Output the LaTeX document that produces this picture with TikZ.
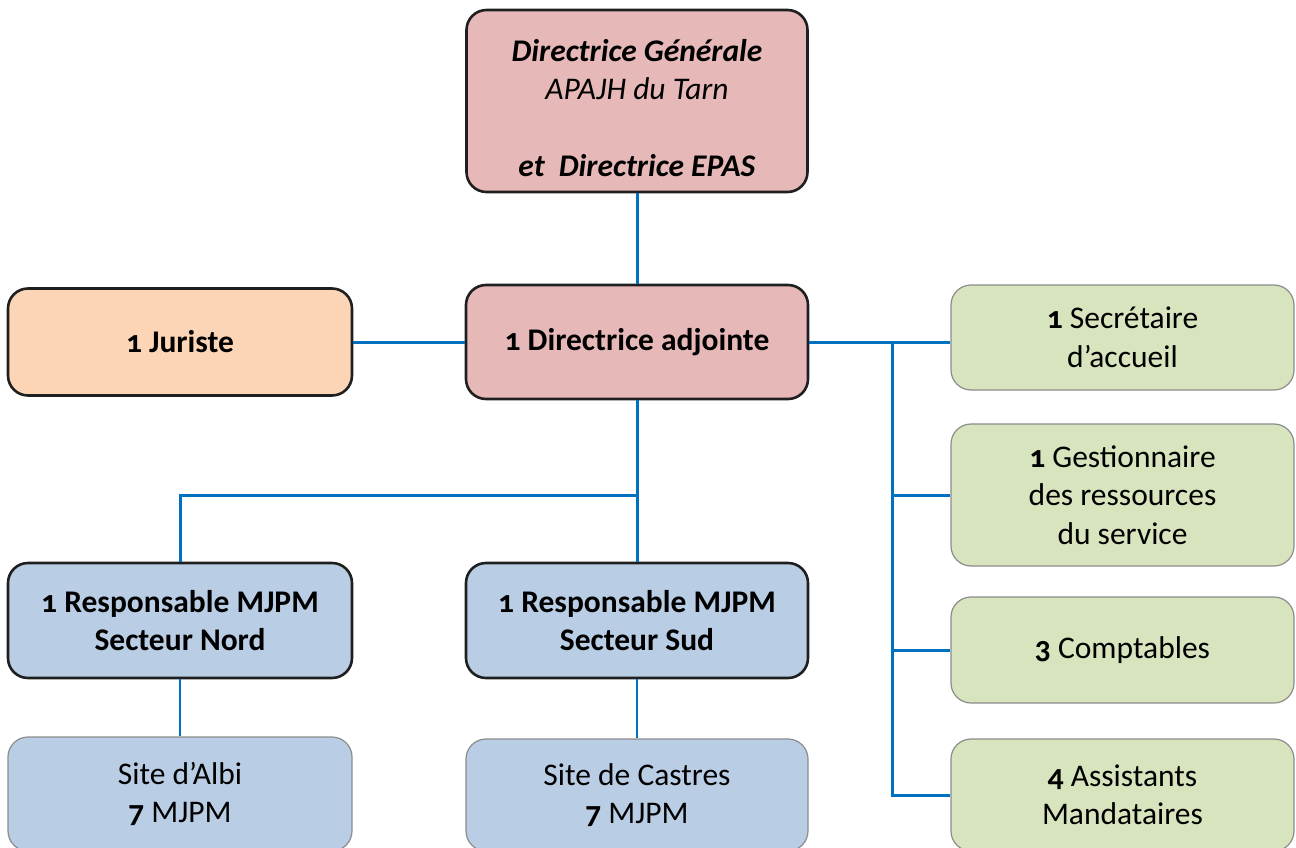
\documentclass[tikz,border=0pt]{standalone}
\usepackage{fontspec}
\setmainfont{Carlito}[Numbers=OldStyle]
\begin{document}
\begin{tikzpicture}[x=1pt,y=-1pt,
  every node/.style={align=center,font=\fontsize{31.5}{38.5}\selectfont,text=black},
  box/.style={rectangle,rounded corners=20pt,inner sep=0pt},
  strong/.style={box,draw=black!88,line width=2.6pt},
  soft/.style={box,draw=black!45,line width=1.2pt},
  pinkbox/.style={strong,fill=pinkfill},
  peachbox/.style={strong,fill=peachfill},
  bluebox/.style={strong,fill=bluefill},
  siteblue/.style={soft,fill=bluefill},
  greenbox/.style={soft,fill=greenfill},
  link/.style={draw=linkblue,line width=3pt},
  thinlink/.style={draw=linkblue,line width=2.2pt}]
\definecolor{pinkfill}{HTML}{E6B8B7}
\definecolor{peachfill}{HTML}{FBD5B5}
\definecolor{bluefill}{HTML}{B9CDE5}
\definecolor{greenfill}{HTML}{D7E4BD}
\definecolor{linkblue}{HTML}{0070C0}
\useasboundingbox (0,0) rectangle (1296,848);

% direction
\node[pinkbox,minimum width=341pt,minimum height=182pt] (dg) at (637,101)
  {};
\node (dgtext) at (637,108)
  {\textbf{\textit{Directrice Générale}}\\\textit{APAJH du Tarn}\\[38.5pt]\textbf{\textit{et\ \ Directrice EPAS}}};
\node[pinkbox,minimum width=342pt,minimum height=114pt] (da) at (637,342)
  {\textbf{1 Directrice adjointe}};
\node[peachbox,minimum width=344pt,minimum height=107pt] (jur) at (180,342)
  {\textbf{1 Juriste}};

% services (right column)
\node[greenbox,minimum width=343pt,minimum height=105pt] (sec) at (1122.5,337.5)
  {\textbf{1} Secrétaire\\d’accueil};
\node[greenbox,minimum width=343pt,minimum height=142pt] (ges) at (1122.5,495)
  {\textbf{1} Gestionnaire\\des ressources\\du service};
\node[greenbox,minimum width=343pt,minimum height=106pt] (cpt) at (1122.5,650)
  {\textbf{3} Comptables};
\node[greenbox,minimum width=343pt,minimum height=112pt] (ast) at (1122.5,795)
  {\textbf{4} Assistants\\Mandataires};

% sectors
\node[bluebox,minimum width=344pt,minimum height=115pt] (nord) at (180,620.5)
  {\textbf{1 Responsable MJPM}\\\textbf{Secteur Nord}};
\node[bluebox,minimum width=342pt,minimum height=115pt] (sud) at (637,620.5)
  {\textbf{1 Responsable MJPM}\\\textbf{Secteur Sud}};
\node[siteblue,minimum width=344pt,minimum height=114pt] (albi) at (180,794)
  {Site d’Albi\\\textbf{7} MJPM};
\node[siteblue,minimum width=342pt,minimum height=112pt] (cas) at (637,795)
  {Site de Castres\\\textbf{7} MJPM};

% connectors
\coordinate (trunk) at (892,342);
\coordinate (fork) at (637,495);
\draw[link] (dg.south) -- (da.north);
\draw[link] (jur.east) -- (da.west);
\draw[link] (da.east) -- (trunk) -- (trunk -| sec.west);
\draw[link] (trunk) |- (ast.west);
\draw[link] (trunk) |- (ges.west);
\draw[link] (trunk) |- (cpt.west);
\draw[link] (da.south) -- (sud.north);
\draw[link] (fork) -| (nord.north);
\draw[thinlink] (nord.south) -- (albi.north);
\draw[thinlink] (sud.south) -- (cas.north);
\end{tikzpicture}
\end{document}
